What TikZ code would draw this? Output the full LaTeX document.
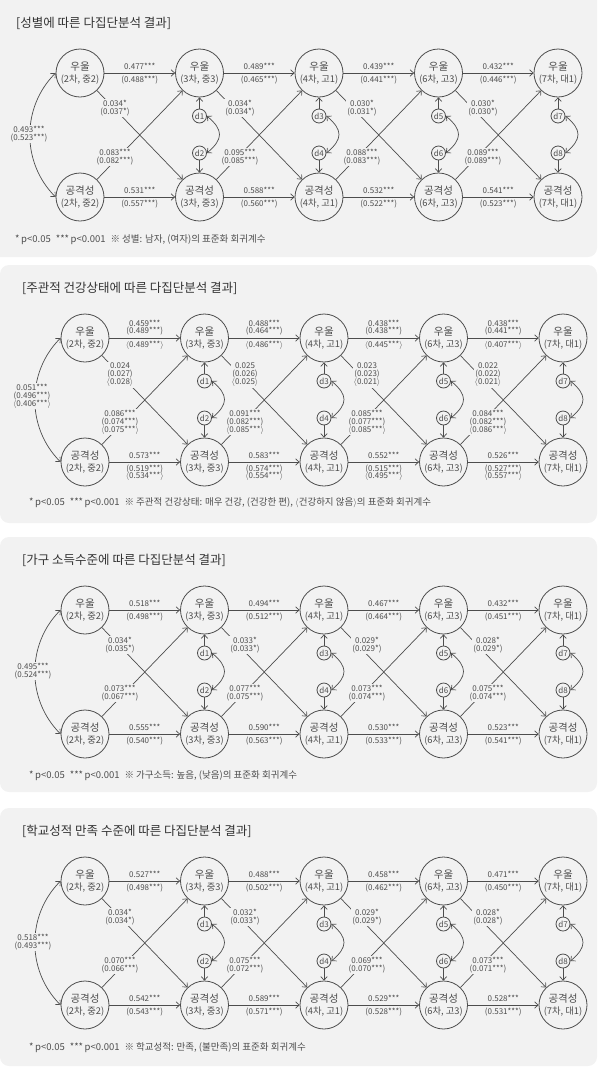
\documentclass[tikz,border=0pt]{standalone}
\usepackage{fontspec}
\setmainfont{Noto Sans CJK KR}
\usetikzlibrary{arrows.meta}
\definecolor{panelgray}{HTML}{F2F2F2}
\definecolor{inkgray}{HTML}{4D4D4D}
\definecolor{titlegray}{HTML}{333333}
\newcommand{\lab}{$\langle$}
\newcommand{\rab}{$\rangle$}
\newcommand{\bigtxt}[1]{{\fontsize{10.5}{12.5}\selectfont #1}}

\tikzset{
  >={Straight Barb[length=3.5pt,width=6.5pt]},
  latent/.style={circle,draw=inkgray,line width=0.8pt,minimum size=48pt,inner sep=0pt,
    align=center,text=inkgray,font=\fontsize{9.3}{12.5}\selectfont},
  resid/.style={circle,draw=inkgray,line width=0.8pt,minimum size=14pt,inner sep=0pt,
    text=inkgray,font=\fontsize{8}{8}\selectfont},
  conn/.style={draw=inkgray,line width=0.7pt,->},
  coef/.style={text=inkgray,inner sep=1pt,align=center,font=\fontsize{8}{8.5}\selectfont},
  coefbox/.style={coef,fill=panelgray},
  panel/.style={fill=panelgray,rounded corners=9pt},
  paneltitle/.style={anchor=west,text=titlegray,inner sep=0pt,font=\fontsize{12.5}{14}\selectfont},
  panelnote/.style={anchor=west,text=inkgray,inner sep=0pt,font=\fontsize{9.5}{11}\selectfont},
}

% cross-lagged model: 5 waves, columns at 85 + 119.5*i
\newcommand{\crosslag}{%
  \foreach \wv/\gr [count=\i from 0] in {2/중2,3/중3,4/고1,6/고3,7/대1}{
    \node[latent] (u\i) at (85+119.5*\i,-73) {\bigtxt{우울}\\({\wv}차, {\gr})};
    \node[latent] (a\i) at (85+119.5*\i,-197) {\bigtxt{공격성}\\({\wv}차, {\gr})};
  }
  % disturbances
  \foreach \i in {1,...,4}{
    \pgfmathtruncatemacro\m{2*\i-1}
    \pgfmathtruncatemacro\n{2*\i}
    \node[resid] (d\m) at (85+119.5*\i,-116) {d\m};
    \node[resid] (d\n) at (85+119.5*\i,-153) {d\n};
    \draw[conn] (d\m) -- (u\i);
    \draw[conn] (d\n) -- (a\i);
    \draw[conn,<->] (d\m.east) to[out=-40,in=40,looseness=1.5] (d\n.east);
  }
  % autoregressive and cross-lagged paths
  \foreach \i in {0,...,3}{
    \pgfmathtruncatemacro\nx{\i+1}
    \draw[conn] (u\i) -- (u\nx);
    \draw[conn] (a\i) -- (a\nx);
    \draw[conn] (u\i) -- (a\nx);
    \draw[conn] (a\i) -- (u\nx);
  }
  \draw[conn,<->] (u0.west) to[bend right=45] (a0.west);
}

\begin{document}
\begin{tikzpicture}[x=1pt,y=1pt]
  \useasboundingbox (0,0) rectangle (600,-1077);
  % panels
  \fill[panel] (-10,10) rectangle (597,-257);
  \fill[panel] (0,-265) rectangle (597,-523);
  \fill[panel] (0,-537) rectangle (597,-792);
  \fill[panel] (0,-808) rectangle (597,-1066);

  % gender
  \begin{scope}[xshift=-5]
    \node[paneltitle] (title1) at (21,-23) {[성별에 따른 다집단분석 결과]};
    \crosslag
    \foreach \p/\q [count=\i from 0] in {0.477***/(0.488***),0.489***/(0.465***),0.439***/(0.441***),0.432***/(0.446***)}{
      \pgfmathtruncatemacro\nx{\i+1}
      \path (u\i) -- (u\nx) node[coef,midway,yshift=7] (ut\i) {\p} node[coef,midway,yshift=-7] (ub\i) {\q};
    }
    \foreach \p/\q [count=\i from 0] in {0.531***/(0.557***),0.588***/(0.560***),0.532***/(0.522***),0.541***/(0.523***)}{
      \pgfmathtruncatemacro\nx{\i+1}
      \path (a\i) -- (a\nx) node[coef,midway,yshift=7] (at\i) {\p} node[coef,midway,yshift=-7] (ab\i) {\q};
    }
    \foreach \x/\p/\q [count=\i from 0] in {120/0.034*/(0.037*),245/0.034*/(0.034*),367/0.030*/(0.031*),488/0.030*/(0.030*)}
      \node[coefbox] (cd\i) at (\x,-108) {\p\\\q};
    \foreach \x/\p/\q [count=\i from 0] in {120/0.083***/(0.082***),245/0.095***/(0.085***),367/0.088***/(0.083***),488/0.089***/(0.089***)}
      \node[coefbox] (cu\i) at (\x,-157) {\p\\\q};
    \node[coefbox] (cc1) at (34,-134) {0.493***\\(0.523***)};
    \node[panelnote] (note1) at (20,-240) {*\,p<0.05\hspace{5pt}***\,p<0.001\hspace{5pt}※ 성별: 남자, (여자)의 표준화 회귀계수};
  \end{scope}

  % self-rated health
  \begin{scope}[yshift=-265]
    \node[paneltitle] (title2) at (22,-23) {[주관적 건강상태에 따른 다집단분석 결과]};
    \crosslag
    \foreach \p/\q/\r [count=\i from 0] in {0.459***/(0.489***)/\lab{}0.489***\rab,0.488***/(0.464***)/\lab{}0.486***\rab,0.438***/(0.438***)/\lab{}0.445***\rab,0.438***/(0.441***)/\lab{}0.407***\rab}{
      \pgfmathtruncatemacro\nx{\i+1}
      \path (u\i) -- (u\nx) node[coef,midway,yshift=15] (ut\i) {\p} node[coef,midway,yshift=7] (um\i) {\q}
        node[coef,midway,yshift=-7] (ub\i) {\r};
    }
    \foreach \p/\q/\r [count=\i from 0] in {0.573***/(0.519***)/\lab{}0.534***\rab,0.583***/(0.574***)/\lab{}0.554***\rab,0.552***/(0.515***)/\lab{}0.495***\rab,0.526***/(0.527***)/\lab{}0.557***\rab}{
      \pgfmathtruncatemacro\nx{\i+1}
      \path (a\i) -- (a\nx) node[coef,midway,yshift=7] (at\i) {\p} node[coef,midway,yshift=-7] (am\i) {\q}
        node[coef,midway,yshift=-14.5] (ab\i) {\r};
    }
    \foreach \x/\p/\q/\r [count=\i from 0] in {120/0.024/(0.027)/\lab{}0.028\rab,245/0.025/(0.026)/\lab{}0.025\rab,367/0.023/(0.023)/\lab{}0.021\rab,488/0.022/(0.022)/\lab{}0.021\rab}
      \node[coefbox,font=\fontsize{8}{8}\selectfont] (cd\i) at (\x,-110) {\p\\\q\\\r};
    \foreach \x/\p/\q/\r [count=\i from 0] in {120/0.086***/(0.074***)/\lab{}0.075***\rab,245/0.091***/(0.082***)/\lab{}0.085***\rab,367/0.085***/(0.077***)/\lab{}0.085***\rab,488/0.084***/(0.082***)/\lab{}0.086***\rab}
      \node[coefbox,font=\fontsize{8}{8}\selectfont] (cu\i) at (\x,-157) {\p\\\q\\\r};
    \node[coefbox,font=\fontsize{8}{8}\selectfont] (cc2) at (32,-131) {0.051***\\(0.496***)\\\lab{}0.406***\rab};
    \node[panelnote] (note2) at (29,-238) {*\,p<0.05\hspace{5pt}***\,p<0.001\hspace{5pt}※ 주관적 건강상태: 매우 건강, (건강한 편), \lab{}건강하지 않음\rab{}의 표준화 회귀계수};
  \end{scope}

  % household income
  \begin{scope}[yshift=-537]
    \node[paneltitle] (title3) at (22,-23) {[가구 소득수준에 따른 다집단분석 결과]};
    \crosslag
    \foreach \p/\q [count=\i from 0] in {0.518***/(0.498***),0.494***/(0.512***),0.467***/(0.464***),0.432***/(0.451***)}{
      \pgfmathtruncatemacro\nx{\i+1}
      \path (u\i) -- (u\nx) node[coef,midway,yshift=7] (ut\i) {\p} node[coef,midway,yshift=-7] (ub\i) {\q};
    }
    \foreach \p/\q [count=\i from 0] in {0.555***/(0.540***),0.590***/(0.563***),0.530***/(0.533***),0.523***/(0.541***)}{
      \pgfmathtruncatemacro\nx{\i+1}
      \path (a\i) -- (a\nx) node[coef,midway,yshift=7] (at\i) {\p} node[coef,midway,yshift=-7] (ab\i) {\q};
    }
    \foreach \x/\p/\q [count=\i from 0] in {120/0.034*/(0.035*),245/0.033*/(0.033*),367/0.029*/(0.029*),488/0.028*/(0.029*)}
      \node[coefbox] (cd\i) at (\x,-108) {\p\\\q};
    \foreach \x/\p/\q [count=\i from 0] in {120/0.073***/(0.067***),245/0.077***/(0.075***),367/0.073***/(0.074***),488/0.075***/(0.074***)}
      \node[coefbox] (cu\i) at (\x,-156) {\p\\\q};
    \node[coefbox] (cc3) at (33,-134) {0.495***\\(0.524***)};
    \node[panelnote] (note3) at (29,-239) {*\,p<0.05\hspace{5pt}***\,p<0.001\hspace{5pt}※ 가구소득: 높음, (낮음)의 표준화 회귀계수};
  \end{scope}

  % school grades
  \begin{scope}[yshift=-808]
    \node[paneltitle] (title4) at (22,-23) {[학교성적 만족 수준에 따른 다집단분석 결과]};
    \crosslag
    \foreach \p/\q [count=\i from 0] in {0.527***/(0.498***),0.488***/(0.502***),0.458***/(0.462***),0.471***/(0.450***)}{
      \pgfmathtruncatemacro\nx{\i+1}
      \path (u\i) -- (u\nx) node[coef,midway,yshift=7] (ut\i) {\p} node[coef,midway,yshift=-7] (ub\i) {\q};
    }
    \foreach \p/\q [count=\i from 0] in {0.542***/(0.543***),0.589***/(0.571***),0.529***/(0.528***),0.528***/(0.531***)}{
      \pgfmathtruncatemacro\nx{\i+1}
      \path (a\i) -- (a\nx) node[coef,midway,yshift=7] (at\i) {\p} node[coef,midway,yshift=-7] (ab\i) {\q};
    }
    \foreach \x/\p/\q [count=\i from 0] in {120/0.034*/(0.034*),245/0.032*/(0.033*),367/0.029*/(0.029*),488/0.028*/(0.028*)}
      \node[coefbox] (cd\i) at (\x,-109) {\p\\\q};
    \foreach \x/\p/\q [count=\i from 0] in {120/0.070***/(0.066***),245/0.075***/(0.072***),367/0.069***/(0.070***),488/0.073***/(0.071***)}
      \node[coefbox] (cu\i) at (\x,-157) {\p\\\q};
    \node[coefbox] (cc4) at (33,-134) {0.518***\\(0.493***)};
    \node[panelnote] (note4) at (29,-240) {*\,p<0.05\hspace{5pt}***\,p<0.001\hspace{5pt}※ 학교성적: 만족, (불만족)의 표준화 회귀계수};
  \end{scope}
\end{tikzpicture}
\end{document}
